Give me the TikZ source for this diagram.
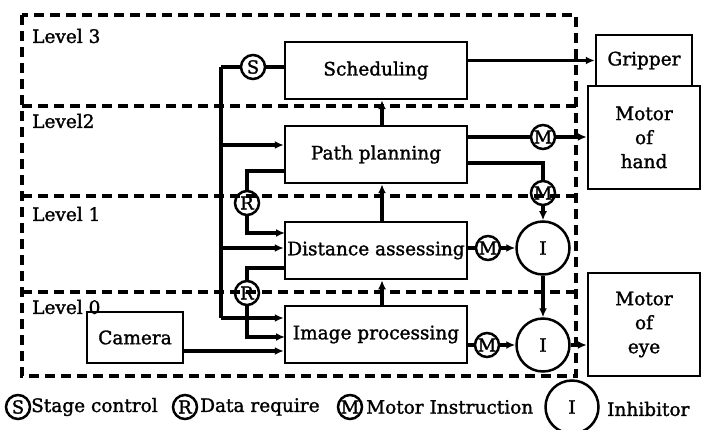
\documentclass[tikz,border=0pt]{standalone}
\usepackage{fontspec}
\setmainfont{DejaVu Serif}
\newfontfamily\heavyserif{DejaVu Serif}[FakeBold=1.5]
\usetikzlibrary{arrows.meta}
\begin{document}
\begin{tikzpicture}[x=1pt,y=-1pt,
  >={Latex[length=9pt,width=8pt]},
  wire/.style={draw, line width=3.2pt},
  txt/.style={font=\heavyserif\fontsize{18.5}{24}\selectfont},
  box/.style={draw, rectangle, inner sep=0pt, align=center, line width=2.5pt, txt},
  sc/.style={draw, circle, minimum size=24pt, inner sep=0pt, line width=2.5pt, font=\heavyserif\fontsize{18}{18}\selectfont},
  inh/.style={draw, circle, minimum size=53pt, inner sep=0pt, line width=2.5pt, txt},
  lvl/.style={draw, dash pattern=on 10pt off 6pt, line width=3.2pt},
  lab/.style={anchor=west, inner sep=0pt, txt}]
\useasboundingbox (0,0) rectangle (701,430);
% level frames
\path[lvl] (22,15) rectangle (576,376);
\path[lvl] (22,106) -- (576,106);
\path[lvl] (22,196) -- (576,196);
\path[lvl] (22,292) -- (576,292);
\node[lab] (L3) at (32,36) {Level 3};
\node[lab] (L2) at (32,121) {Level2};
\node[lab] (L1) at (32,214) {Level 1};
\node[lab] (L0) at (32,307) {Level 0};
% boxes
\node[box, minimum width=182pt, minimum height=57pt] (Sched) at (376,70.5) {Scheduling};
\node[box, minimum width=182pt, minimum height=57pt] (Path) at (376,154.5) {Path planning};
\node[box, minimum width=182pt, minimum height=57pt] (Dist) at (376,250.5) {Distance assessing};
\node[box, minimum width=182pt, minimum height=57pt] (Img) at (376,334.5) {Image processing};
\node[box, minimum width=96pt, minimum height=51pt] (Cam) at (135,337.5) {Camera};
\node[box, minimum width=96pt, minimum height=51pt] (Grip) at (644,60.5) {Gripper};
\node[box, minimum width=112pt, minimum height=103pt] (Hand) at (644,137.5) {Motor\\of\\hand};
\node[box, minimum width=112pt, minimum height=103pt] (Eye) at (644,324.5) {Motor\\of\\eye};
% small circles
\node[sc] (S) at (253,67) {S};
\node[sc] (R1) at (247,203) {R};
\node[sc] (R2) at (247,293) {R};
\node[sc] (M1) at (543,137) {M};
\node[sc] (M2) at (543,193) {M};
\node[sc] (M3) at (488,248) {M};
\node[sc] (M4) at (487,345) {M};
\node[inh] (I1) at (543,248) {I};
\node[inh] (I2) at (543,345) {I};
% bus
\coordinate (bt) at (221,67);
\coordinate (b1) at (221,145);
\coordinate (b2) at (221,248);
\coordinate (bb) at (221,318);
\coordinate (ax) at (382,0);
\coordinate (p1) at (285,171);
\coordinate (d1) at (285,233);
\coordinate (d2) at (285,268);
\coordinate (i1) at (285,337);
\coordinate (c1) at (183,351);
\coordinate (p2) at (467,163);
\path[wire] (bt) -- (bb);
\path[wire] (bt) -- (S);
\path[wire] (S) -- (S -| Sched.west);
\path[wire,->] (b1) -- (b1 -| Path.west);
\path[wire,->] (b2) -- (b2 -| Dist.west);
\path[wire,->] (bb) -- (bb -| Img.west);
\path[wire] (p1) -| (R1);
\path[wire,->] (R1) |- (d1);
\path[wire] (d2) -| (R2);
\path[wire,->] (R2) |- (i1);
\path[wire,->] (c1) -- (c1 -| Img.west);
% vertical arrows
\path[wire,->] (Path.north -| ax) -- (Sched.south -| ax);
\path[wire,->] (Dist.north -| ax) -- (Path.south -| ax);
\path[wire,->] (Img.north -| ax) -- (Dist.south -| ax);
% right side
\path[wire,->] (Sched.east |- Grip) -- (Grip.west);
\path[wire] (Path.east |- M1) -- (M1);
\path[wire,->] (M1) -- (M1 -| Hand.west);
\path[wire] (p2) -| (M2);
\path[wire,->] (M2) -- (I1);
\path[wire] (Dist.east |- M3) -- (M3);
\path[wire,->] (M3) -- (I1);
\path[wire] (Img.east |- M4) -- (M4);
\path[wire,->] (M4) -- (I2);
\path[wire,->] (I1) -- (I2);
\path[wire,->] (I2) -- (I2 -| Eye.west);
% legend
\node[sc] (lS) at (18,407) {S};
\node[lab] (tS) at (31,407) {Stage control};
\node[sc] (lR) at (185,407) {R};
\node[lab] (tR) at (200,407) {Data require};
\node[sc] (lM) at (350,407) {M};
\node[lab] (tM) at (366,407) {Motor Instruction};
\node[inh] (lI) at (572,407) {I};
\node[lab] (tI) at (607,409) {Inhibitor};
\end{tikzpicture}
\end{document}
